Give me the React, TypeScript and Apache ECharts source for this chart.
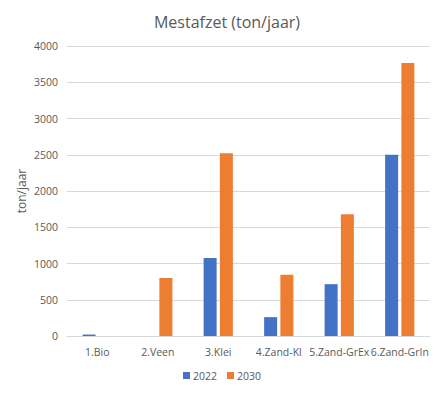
import React, { useEffect, useRef } from "react";
import * as echarts from "echarts";

const categories = ["1.Bio", "2.Veen", "3.Klei", "4.Zand-Kl", "5.Zand-GrEx", "6.Zand-GrIn"];
const values2022 = [20, 0, 1075, 260, 715, 2500];
const values2030 = [0, 800, 2520, 845, 1680, 3765];
const seriesNames = ["2022", "2030"];
const yTicks = { min: 0, max: 4000, interval: 500 };

export default function App() {
  const ref = useRef<HTMLDivElement>(null);
  useEffect(() => {
    document.body.style.margin = "0";
    const chart = echarts.init(ref.current!, null, { renderer: "svg" });
    const font = "'Open Sans', 'Noto Sans', sans-serif";
    chart.setOption({
      animation: false,
      textStyle: { fontFamily: font },
      title: {
        text: "Mestafzet (ton/jaar)",
        left: 222,
        textAlign: "center",
        top: 9,
        textStyle: { fontSize: 16, fontWeight: "normal", color: "#595959", fontFamily: font },
      },
      legend: {
        data: seriesNames,
        bottom: 8,
        left: "center",
        itemWidth: 7,
        itemHeight: 7,
        itemGap: 10,
        icon: "rect",
        textStyle: { fontSize: 10.5, color: "#595959", fontFamily: font, padding: [0, 0, 0, -2] },
      },
      grid: { left: 67, right: 14, top: 46, bottom: 58 },
      xAxis: {
        type: "category",
        data: categories,
        axisLine: { lineStyle: { color: "#d9d9d9" } },
        axisTick: { show: false },
        axisLabel: { color: "#595959", fontSize: 10.5, margin: 10, interval: 0, fontFamily: font },
      },
      yAxis: {
        type: "value",
        min: yTicks.min,
        max: yTicks.max,
        interval: yTicks.interval,
        name: "ton/jaar",
        nameLocation: "middle",
        nameGap: 40,
        nameRotate: 90,
        nameMoveOverlap: false,
        nameTextStyle: { color: "#595959", fontSize: 12, fontFamily: font },
        axisLine: { show: false },
        axisTick: { show: false },
        axisLabel: {
          color: "#595959",
          fontSize: 10.5,
          margin: 9,
          fontFamily: font,
          formatter: (v: number) => String(v),
        },
        splitLine: { lineStyle: { color: "#d9d9d9" } },
      },
      series: [
        {
          name: seriesNames[0],
          type: "bar",
          data: values2022,
          barWidth: 13,
          barGap: "25%",
          itemStyle: { color: "#4472C4" },
        },
        {
          name: seriesNames[1],
          type: "bar",
          data: values2030,
          barWidth: 13,
          barGap: "25%",
          itemStyle: { color: "#ED7D31" },
        },
      ],
    });
    return () => chart.dispose();
  }, []);
  return <div ref={ref} style={{ width: 444, height: 394 }} />;
}
